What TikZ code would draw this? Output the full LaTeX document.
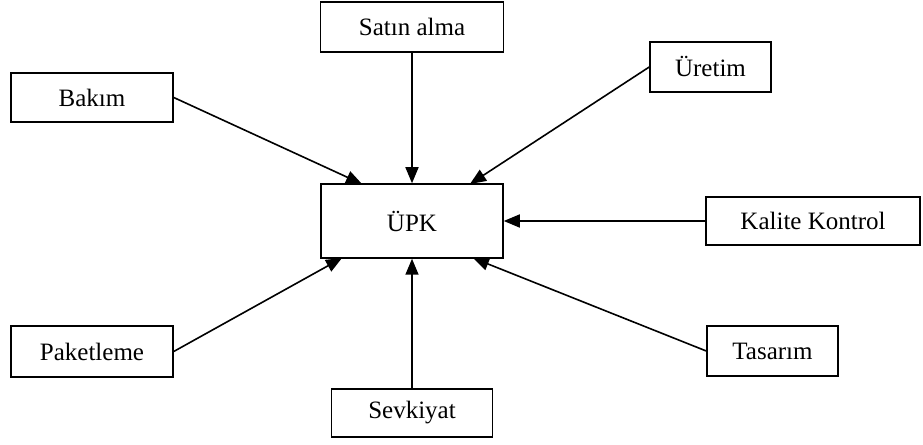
\documentclass[tikz,border=0pt]{standalone}
\usepackage{fontspec}
\setmainfont{Liberation Serif}
\usetikzlibrary{arrows.meta}
\begin{document}
\begin{tikzpicture}[x=1bp,y=-1bp,
  unit/.style={draw,line width=1.5bp,inner sep=0pt,font=\fontsize{25bp}{28bp}\selectfont},
  link/.style={line width=1.6bp,-{Triangle[length=16bp,width=13bp]}}]
\useasboundingbox (0,0) rectangle (923,445);
% departments
\node[unit,minimum width=183bp,minimum height=50bp] (satin) at (412,27) {Satın alma};
\node[unit,minimum width=121bp,minimum height=50bp] (uretim) at (710.5,67) {Üretim};
\node[unit,minimum width=162bp,minimum height=49bp] (bakim) at (92,97.5) {Bakım};
\node[unit,minimum width=182bp,minimum height=74bp] (upk) at (412,221) {ÜPK};
\node[unit,minimum width=214bp,minimum height=48bp] (kalite) at (813,221) {Kalite Kontrol};
\node[unit,minimum width=162bp,minimum height=51bp] (paket) at (92,351.5) {Paketleme};
\node[unit,minimum width=131bp,minimum height=50bp] (tasarim) at (772.5,351) {Tasarım};
\node[unit,minimum width=161bp,minimum height=48bp] (sevk) at (412,413) {Sevkiyat};
% arrow targets on the central box
\coordinate (tnw) at (362,184);
\coordinate (tne) at (470,184);
\coordinate (tsw) at (342,258);
\coordinate (tse) at (473,258);
% connectors
\draw[link] (bakim.east) -- (tnw);
\draw[link] (satin.south) -- (upk.north);
\draw[link] (uretim.west) -- (tne);
\draw[link] (kalite.west) -- (upk.east);
\draw[link] (paket.east) -- (tsw);
\draw[link] (sevk.north) -- (upk.south);
\draw[link] (tasarim.west) -- (tse);
\end{tikzpicture}
\end{document}
